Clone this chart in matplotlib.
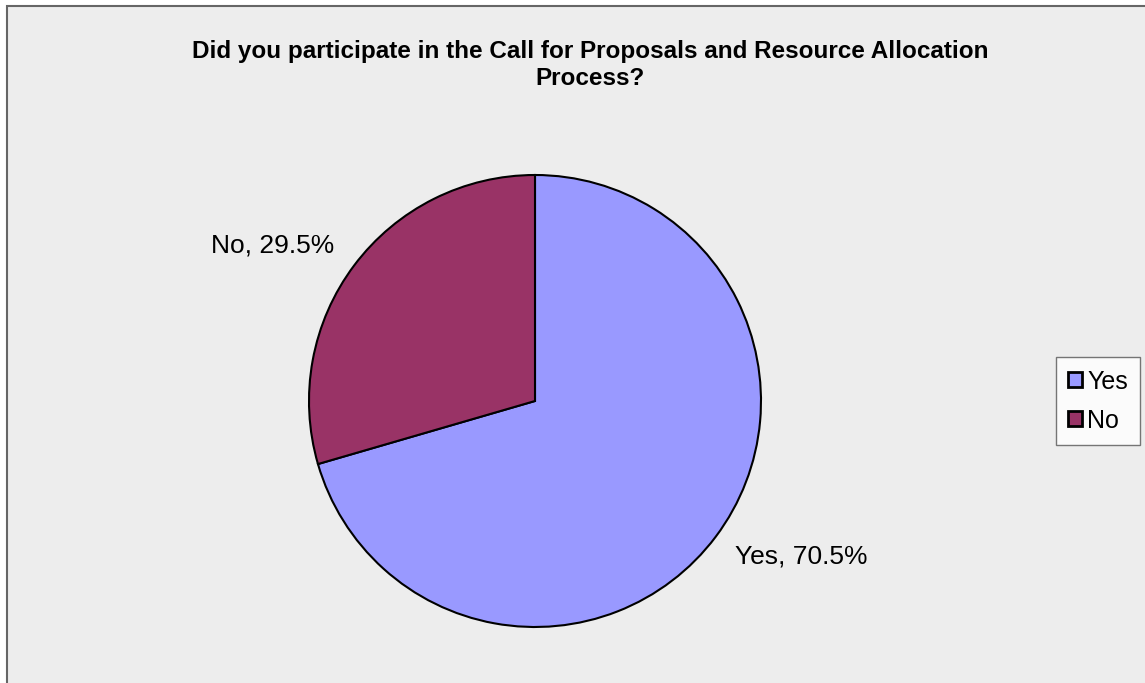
import matplotlib.pyplot as plt
import matplotlib.patches as mpatches

labels = ['Yes', 'No']
values = [70.5, 29.5]
colors = ['#9999FF', '#993366']

plt.rcParams['font.family'] = ['Liberation Sans', 'DejaVu Sans']

W, H = 1145, 683
fig = plt.figure(figsize=(W / 100, H / 100), dpi=100)
fig.patch.set_facecolor('white')

# grey chart area with border on left/top
bg = mpatches.Rectangle((7 / W, -0.1), 1.2, 1.1 - 6 / H, transform=fig.transFigure,
                        facecolor='#EDEDED', edgecolor='#666666', linewidth=1.5, zorder=-10)
fig.patches.append(bg)

cx, cy, r = 535, 401, 226
ax = fig.add_axes([(cx - r) / W, (H - cy - r) / H, 2 * r / W, 2 * r / H])
ax.set_facecolor('none')
wedges, _ = ax.pie(values, colors=colors, startangle=90, counterclock=False,
                   radius=1, wedgeprops=dict(edgecolor='black', linewidth=1.5))
ax.set_xlim(-1, 1)
ax.set_ylim(-1, 1)
ax.set_aspect('equal')
ax.axis('off')

ax.text(-0.89, 0.686, f'{labels[1]}, {values[1]}%', ha='right', va='center', fontsize=19)
ax.text(0.885, -0.69, f'{labels[0]}, {values[0]}%', ha='left', va='center', fontsize=19)

fig.text(590 / W, 1 - 65 / H, 'Did you participate in the Call for Proposals and Resource Allocation\nProcess?',
         ha='center', va='center', fontsize=17.5, fontweight='bold', linespacing=1.25)

handles = [mpatches.Patch(facecolor=c, edgecolor='black', linewidth=2) for c in colors]
leg = fig.legend(handles, labels, loc='center', bbox_to_anchor=(1098 / W, 1 - 401 / H),
                 fontsize=18, frameon=True, fancybox=False, handlelength=0.55, handleheight=0.55,
                 handletextpad=0.2, labelspacing=0.6, borderpad=0.5, borderaxespad=0)
leg.get_frame().set_edgecolor('#555555')
leg.get_frame().set_facecolor('white')
leg.get_frame().set_linewidth(1.0)

plt.savefig('out.png', dpi=100)
plt.close()
